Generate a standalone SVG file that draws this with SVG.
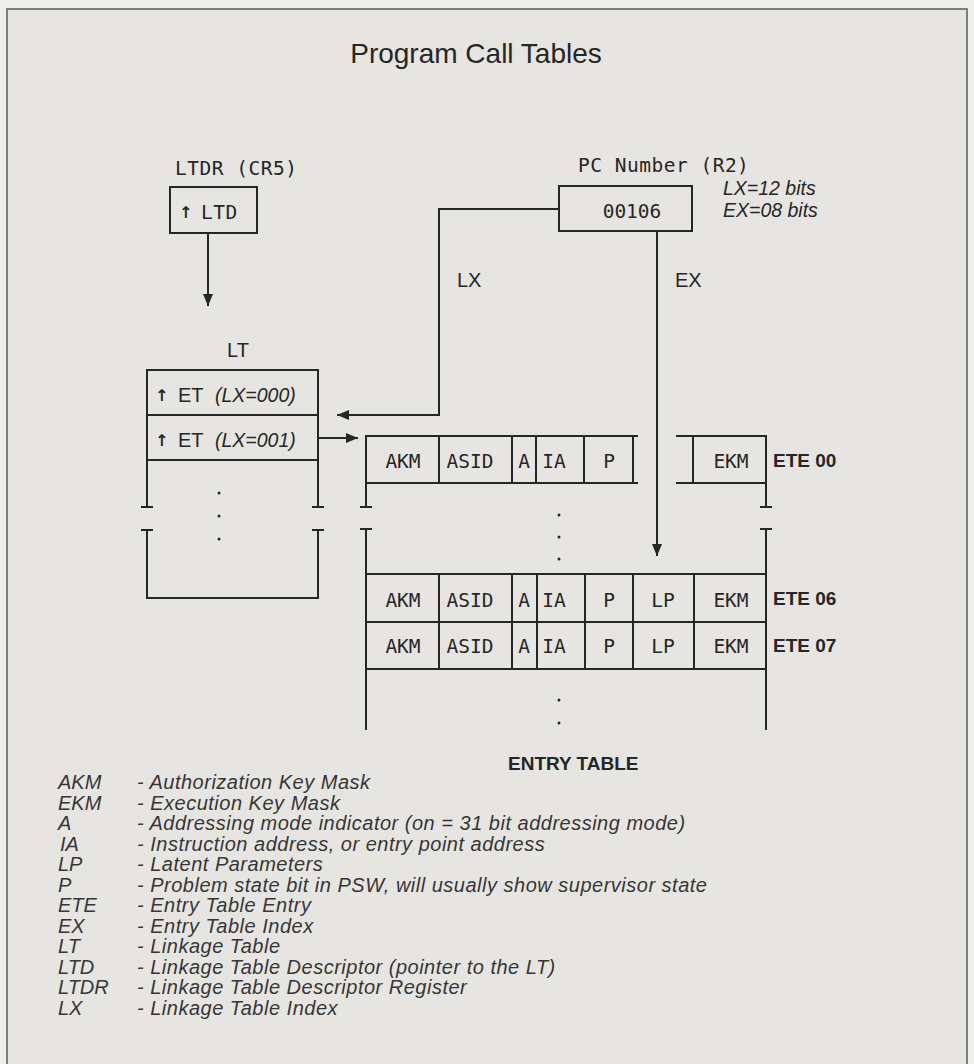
<svg xmlns="http://www.w3.org/2000/svg" width="974" height="1064" viewBox="0 0 974 1064">
<style>
.ln{stroke:#262626;stroke-width:2;fill:none}
.mono{font-family:"DejaVu Sans Mono","Liberation Mono",monospace;font-size:19.5px;fill:#262626;letter-spacing:0.5px}
.cell{font-family:"DejaVu Sans Mono","Liberation Mono",monospace;font-size:19.5px;fill:#262626;text-anchor:middle}
.sans{font-family:"Liberation Sans",Arial,sans-serif;font-size:20px;fill:#262626}
.it{font-family:"Liberation Sans",Arial,sans-serif;font-style:italic;font-size:19.5px;fill:#262626}
.bold{font-family:"Liberation Sans",Arial,sans-serif;font-weight:bold;font-size:19px;fill:#262626}
.leg{font-family:"Liberation Sans",Arial,sans-serif;font-style:italic;font-size:20px;fill:#363636}
.desc{letter-spacing:0.5px}
.arr{font-family:"DejaVu Sans",sans-serif;font-size:16px;font-weight:bold;fill:#262626}
.dot{fill:#262626}
</style>
<defs>
<marker id="ah" viewBox="0 0 12 10" refX="12" refY="5" markerWidth="12" markerHeight="10" markerUnits="userSpaceOnUse" orient="auto">
<path d="M0,0 L12,5 L0,10 z" fill="#262626"/>
</marker>
</defs>
<rect x="0" y="0" width="974" height="1064" fill="#efeeea"/>
<rect x="7" y="9" width="960" height="1070" fill="#e7e5e1" stroke="#5a5a5a" stroke-width="1.5"/>
<text x="476" y="63" text-anchor="middle" font-family="Liberation Sans, Arial, sans-serif" font-size="28" fill="#262626">Program Call Tables</text>

<g id="ltdr">
<text class="mono" x="175" y="175">LTDR (CR5)</text>
<rect class="ln" x="170" y="187" width="87" height="46"/>
<text class="arr" x="179" y="218">↑</text>
<text class="mono" x="201" y="219">LTD</text>
</g>

<g id="pcnumber">
<text class="mono" x="578" y="172">PC Number (R2)</text>
<rect class="ln" x="559" y="186" width="133" height="45"/>
<text class="cell" x="632" y="218">00106</text>
<text class="it" x="723" y="195">LX=12 bits</text>
<text class="it" x="723" y="217">EX=08 bits</text>
</g>

<g id="lt">
<text class="sans" x="227" y="357">LT</text>
<path class="ln" d="M147,507 V370 H318 V507 M141,507 H153 M312,507 H324 M141,530 H153 M312,530 H324 M147,530 V598 H318 V530 M147,415 H318 M147,460 H318"/>
<text class="arr" x="155" y="401">↑</text>
<text class="sans" x="178" y="402">ET</text>
<text class="it" x="215" y="402">(LX=000)</text>
<text class="arr" x="155" y="446">↑</text>
<text class="sans" x="178" y="447">ET</text>
<text class="it" x="215" y="447">(LX=001)</text>
<circle class="dot" cx="219" cy="493" r="1.5"/>
<circle class="dot" cx="219" cy="516" r="1.5"/>
<circle class="dot" cx="219" cy="539" r="1.5"/>
</g>

<g id="entrytable">
<path class="ln" d="M366,507 V436 H638 M366,483 H638 M439,436 V483 M512,436 V483 M536,436 V483 M584,436 V483 M633,436 V483 M676,436 H766 V507 M676,483 H766 M693,436 V483 M360,507 H372 M760,507 H772 M360,529 H372 M760,529 H772 M366,529 V730 M766,529 V730 M366,574 H766 M366,622 H766 M366,669 H766 M439,574 V669 M512,574 V669 M537,574 V669 M585,574 V669 M633,574 V669 M694,574 V669"/>
<text class="cell" x="403" y="468">AKM</text>
<text class="cell" x="470" y="468">ASID</text>
<text class="cell" x="524" y="468">A</text>
<text class="cell" x="554" y="468">IA</text>
<text class="cell" x="609" y="468">P</text>
<text class="cell" x="731" y="468">EKM</text>
<text class="bold" x="773" y="467">ETE 00</text>
<circle class="dot" cx="559" cy="515" r="1.5"/>
<circle class="dot" cx="559" cy="537" r="1.5"/>
<circle class="dot" cx="559" cy="559" r="1.5"/>
<text class="cell" x="403" y="607">AKM</text>
<text class="cell" x="470" y="607">ASID</text>
<text class="cell" x="524" y="607">A</text>
<text class="cell" x="554" y="607">IA</text>
<text class="cell" x="609" y="607">P</text>
<text class="cell" x="663" y="607">LP</text>
<text class="cell" x="731" y="607">EKM</text>
<text class="bold" x="773" y="605">ETE 06</text>
<text class="cell" x="403" y="653">AKM</text>
<text class="cell" x="470" y="653">ASID</text>
<text class="cell" x="524" y="653">A</text>
<text class="cell" x="554" y="653">IA</text>
<text class="cell" x="609" y="653">P</text>
<text class="cell" x="663" y="653">LP</text>
<text class="cell" x="731" y="653">EKM</text>
<text class="bold" x="773" y="652">ETE 07</text>
<circle class="dot" cx="559" cy="700" r="1.5"/>
<circle class="dot" cx="559" cy="723" r="1.5"/>
<text class="bold" x="508" y="770">ENTRY TABLE</text>
</g>

<g id="connectors">
<path class="ln" d="M208,233 V306" marker-end="url(#ah)"/>
<path class="ln" d="M559,209 H439 V415 H337" marker-end="url(#ah)"/>
<path class="ln" d="M657,231 V556" marker-end="url(#ah)"/>
<path class="ln" d="M318,438 H358" marker-end="url(#ah)"/>
<text class="sans" x="457" y="287">LX</text>
<text class="sans" x="675" y="287">EX</text>
</g>

<g id="legend">
<text class="leg" x="58" y="789">AKM</text><text class="leg desc" x="137" y="789">- Authorization Key Mask</text>
<text class="leg" x="58" y="809.5">EKM</text><text class="leg desc" x="137" y="809.5">- Execution Key Mask</text>
<text class="leg" x="58" y="830">A</text><text class="leg desc" x="137" y="830">- Addressing mode indicator (on = 31 bit addressing mode)</text>
<text class="leg" x="60" y="850.5">IA</text><text class="leg desc" x="137" y="850.5">- Instruction address, or entry point address</text>
<text class="leg" x="58" y="871">LP</text><text class="leg desc" x="137" y="871">- Latent Parameters</text>
<text class="leg" x="58" y="891.5">P</text><text class="leg desc" x="137" y="891.5">- Problem state bit in PSW, will usually show supervisor state</text>
<text class="leg" x="58" y="912">ETE</text><text class="leg desc" x="137" y="912">- Entry Table Entry</text>
<text class="leg" x="58" y="932.5">EX</text><text class="leg desc" x="137" y="932.5">- Entry Table Index</text>
<text class="leg" x="58" y="953">LT</text><text class="leg desc" x="137" y="953">- Linkage Table</text>
<text class="leg" x="58" y="973.5">LTD</text><text class="leg desc" x="137" y="973.5">- Linkage Table Descriptor (pointer to the LT)</text>
<text class="leg" x="58" y="994">LTDR</text><text class="leg desc" x="137" y="994">- Linkage Table Descriptor Register</text>
<text class="leg" x="58" y="1014.5">LX</text><text class="leg desc" x="137" y="1014.5">- Linkage Table Index</text>
</g>
</svg>
